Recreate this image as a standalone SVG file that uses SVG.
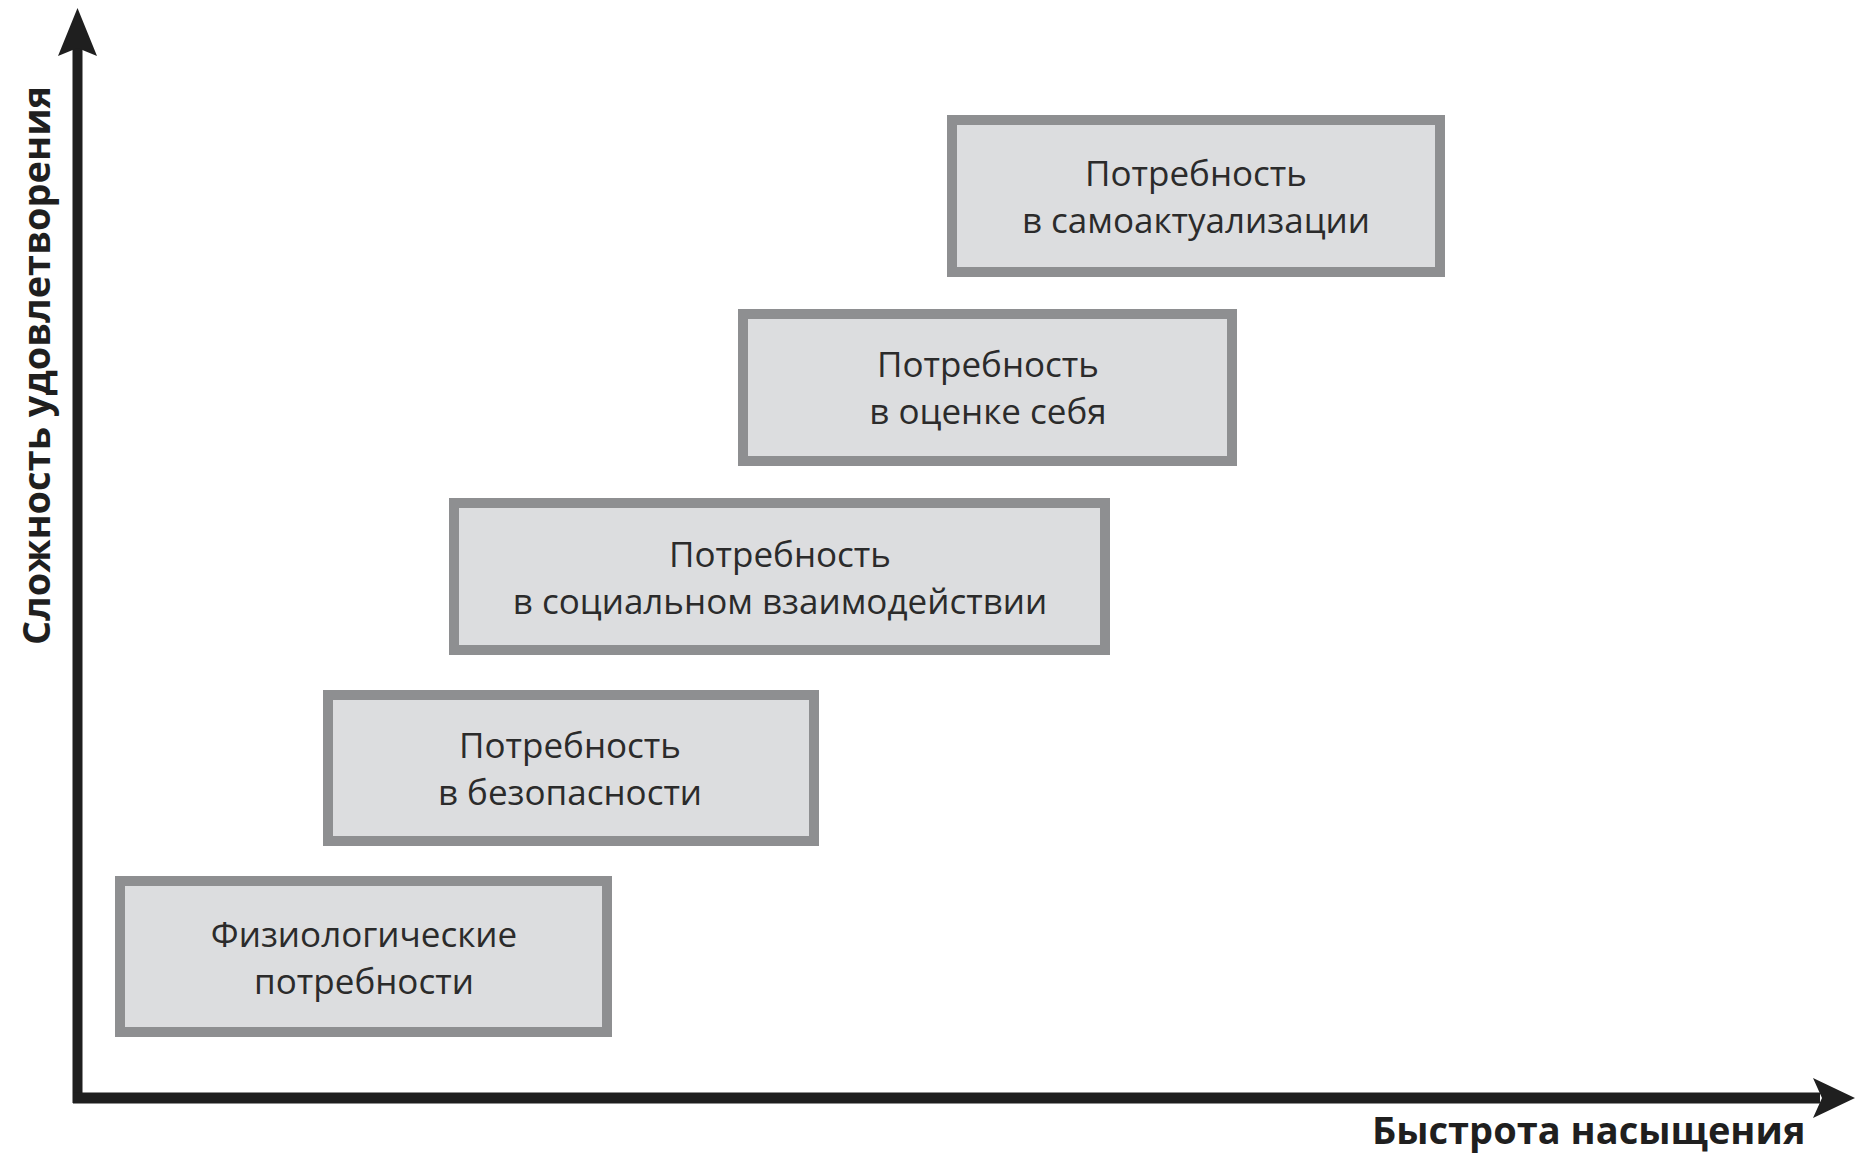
<svg xmlns="http://www.w3.org/2000/svg" width="1856" height="1153" viewBox="0 0 1856 1153">
<style>
.box{fill:#dcdddf;stroke:#8e8f91;stroke-width:10}
.t{font-family:"Open Sans","Noto Sans",sans-serif;font-size:35px;fill:#2b2b2b;text-anchor:middle}
.ax{font-family:"Open Sans","Noto Sans",sans-serif;font-size:38px;font-weight:bold;fill:#1f1f1f}
</style>
<rect width="1856" height="1153" fill="#ffffff"/>
<g id="axes">
<line x1="77.5" y1="45" x2="77.5" y2="1103" stroke="#1f1f1f" stroke-width="10"/>
<line x1="73" y1="1098" x2="1820" y2="1098" stroke="#1f1f1f" stroke-width="11"/>
<polygon points="77.5,8 97,56 77.5,48 58,56" fill="#1f1f1f"/>
<polygon points="1855,1098 1813,1078 1822,1098 1813,1118" fill="#1f1f1f"/>
</g>
<g id="node-1">
<rect class="box" x="952" y="120" width="488" height="152"/>
<text class="t" x="1196" y="186">Потребность</text>
<text class="t" x="1196" y="233">в самоактуализации</text>
</g>
<g id="node-2">
<rect class="box" x="743" y="314" width="489" height="147"/>
<text class="t" x="988" y="377">Потребность</text>
<text class="t" x="988" y="424">в оценке себя</text>
</g>
<g id="node-3">
<rect class="box" x="454" y="503" width="651" height="147"/>
<text class="t" x="780" y="567">Потребность</text>
<text class="t" x="780" y="614">в социальном взаимодействии</text>
</g>
<g id="node-4">
<rect class="box" x="328" y="695" width="486" height="146"/>
<text class="t" x="570" y="758">Потребность</text>
<text class="t" x="570" y="805">в безопасности</text>
</g>
<g id="node-5">
<rect class="box" x="120" y="881" width="487" height="151"/>
<text class="t" x="364" y="947">Физиологические</text>
<text class="t" x="364" y="994">потребности</text>
</g>
<g id="labels">
<text class="ax" x="1372" y="1144">Быстрота насыщения</text>
<text class="ax" transform="translate(50,645) rotate(-90)">Сложность удовлетворения</text>
</g>
</svg>
